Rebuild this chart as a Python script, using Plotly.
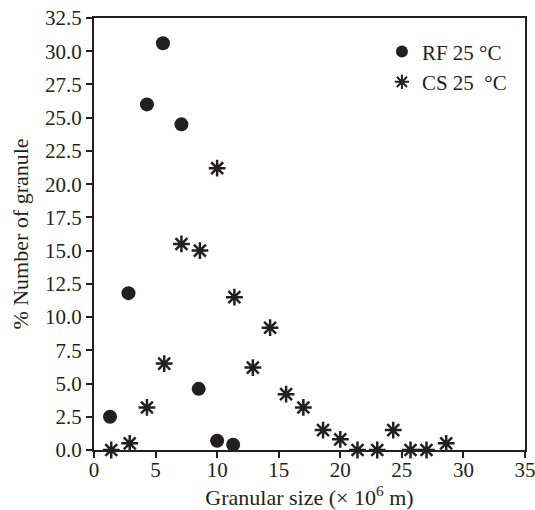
import plotly.graph_objects as go

rf_x = [1.3, 2.8, 4.3, 5.6, 7.1, 8.5, 10.0, 11.3]
rf_y = [2.5, 11.8, 26.0, 30.6, 24.5, 4.6, 0.7, 0.4]

cs_x = [1.4, 2.9, 4.3, 5.7, 7.1, 8.6, 10.0, 11.4, 12.9, 14.3, 15.6, 17.0, 18.6, 20.0, 21.4, 23.0, 24.3, 25.7, 27.0, 28.6]
cs_y = [0.0, 0.5, 3.2, 6.5, 15.5, 15.0, 21.2, 11.5, 6.2, 9.2, 4.2, 3.2, 1.5, 0.8, 0.0, 0.0, 1.5, 0.0, 0.0, 0.5]

x_ticks = [0, 5, 10, 15, 20, 25, 30, 35]
y_ticks = [0, 2.5, 5, 7.5, 10, 12.5, 15, 17.5, 20, 22.5, 25, 27.5, 30, 32.5]

ink = "#231f20"
font = "Liberation Serif, Times New Roman, serif"

fig = go.Figure()
fig.add_trace(go.Scatter(
    x=rf_x, y=rf_y, mode="markers", name="RF 25 °C",
    marker=dict(symbol="circle", size=14, color=ink),
    cliponaxis=False,
))
fig.add_trace(go.Scatter(
    x=cs_x, y=cs_y, mode="markers", name="CS 25 \u00a0°C",
    marker=dict(symbol="asterisk-open", size=14, color=ink, line=dict(color=ink, width=2.5)),
    cliponaxis=False,
))

axis_common = dict(
    showline=True, linecolor=ink, linewidth=2, mirror=True,
    ticks="outside", ticklen=6, tickwidth=2, tickcolor=ink,
    showgrid=False, zeroline=False, automargin=False,
    ticklabeloverflow="allow",
    tickfont=dict(family=font, size=21, color=ink),
)

fig.update_layout(
    width=535, height=510,
    margin=dict(l=94, r=10, t=18, b=60),
    plot_bgcolor="white", paper_bgcolor="white",
    font=dict(family=font, color=ink),
    xaxis=dict(range=[0, 35], tickvals=x_ticks, ticktext=[str(v) for v in x_ticks],
               ticklabelstandoff=-6,
               title=dict(text="Granular size (× 10<sup>6</sup> m)", standoff=10,
                          font=dict(family=font, size=22, color=ink)),
               **axis_common),
    yaxis=dict(range=[0, 32.5], tickvals=y_ticks, ticktext=[f"{v:.1f}" for v in y_ticks],
               title=dict(text="% Number of granule", standoff=10,
                          font=dict(family=font, size=22, color=ink)),
               **axis_common),
    legend=dict(x=0.668, y=0.969, xanchor="left", yanchor="top",
                font=dict(family=font, size=21, color=ink),
                bgcolor="rgba(0,0,0,0)", tracegroupgap=0, itemsizing="constant"),
)

fig.write_html("out.html", config={"displayModeBar": False},
               post_script="document.body.style.margin='0';")
